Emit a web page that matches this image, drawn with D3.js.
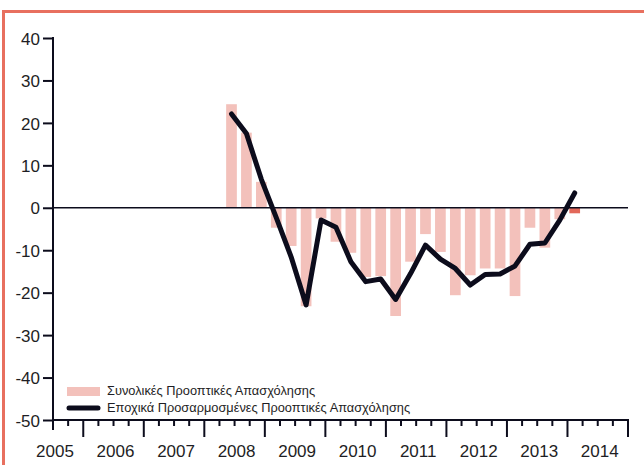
<!DOCTYPE html>
<html>
<head>
<meta charset="utf-8">
<script src="https://cdn.jsdelivr.net/npm/d3@7"></script>
<style>
  body { margin: 0; background: #fff; }
  svg text { font-family: "Liberation Sans", Arial, sans-serif; fill: #1e1e24; }
</style>
</head>
<body>
<svg id="chart" width="644" height="465"></svg>
<script>
// quarterly survey points, 2008 Q2 .. 2014 Q1
var quarters = ['2008Q2','2008Q3','2008Q4','2009Q1','2009Q2','2009Q3','2009Q4','2010Q1',
                '2010Q2','2010Q3','2010Q4','2011Q1','2011Q2','2011Q3','2011Q4','2012Q1',
                '2012Q2','2012Q3','2012Q4','2013Q1','2013Q2','2013Q3','2013Q4','2014Q1'];
// Συνολικές Προοπτικές Απασχόλησης (bars)
var totalOutlook = [24.4, 17.7, 6.1, -4.7, -9.0, -23.2, -2.5, -8.0, -10.6, -16.3, -16.1, -25.5,
                    -12.7, -6.2, -10.4, -20.6, -15.9, -14.3, -14.3, -20.8, -4.7, -9.4, -2.7, -1.3];
// Εποχικά Προσαρμοσμένες Προοπτικές Απασχόλησης (line)
var adjustedOutlook = [22.1, 17.5, 6.7, -2.3, -11.6, -22.9, -2.9, -4.6, -12.7, -17.4, -16.8, -21.6,
                       -15.5, -8.8, -12.1, -14.3, -18.2, -15.7, -15.6, -13.7, -8.6, -8.3, -2.9, 3.5];
var yearLabels = [2005, 2006, 2007, 2008, 2009, 2010, 2011, 2012, 2013, 2014];
var yTicks = [40, 30, 20, 10, 0, -10, -20, -30, -40, -50];
var legendLabels = ['Συνολικές Προοπτικές Απασχόλησης', 'Εποχικά Προσαρμοσμένες Προοπτικές Απασχόλησης'];

var ink = '#0c0c1c',
    barColor = '#f3c1bb',
    lastBarColor = '#e2685a',
    frameColor = '#e8705f';

var svg = d3.select('#chart');

// frame
svg.append('path')
    .attr('d', 'M3.5,465 V11.5 H644')
    .attr('fill', 'none')
    .attr('stroke', frameColor)
    .attr('stroke-width', 3);

var y = d3.scaleLinear().domain([-50, 40]).range([420, 38]);
var x = d3.scaleLinear().domain([2005.5, 2015]).range([53, 628]);
// survey points sit ~3/4 into each quarter
var xq = d3.scalePoint().domain(quarters).range([231.5, 574.7]);
var barW = 10.7;

// bars
svg.append('g').selectAll('rect')
    .data(quarters)
    .enter().append('rect')
    .attr('x', function(d) { return xq(d) - barW / 2; })
    .attr('width', barW)
    .attr('y', function(d, i) { return y(Math.max(0, totalOutlook[i])); })
    .attr('height', function(d, i) { return Math.abs(y(totalOutlook[i]) - y(0)); })
    .attr('fill', function(d, i) { return i === quarters.length - 1 ? lastBarColor : barColor; });

// zero line
svg.append('line')
    .attr('x1', x(2005.5)).attr('x2', x(2015))
    .attr('y1', y(0)).attr('y2', y(0))
    .attr('stroke', ink).attr('stroke-width', 1.4);

// y axis (plain hyphen for negatives, as in the original)
var yAxis = d3.axisLeft(y).tickValues(yTicks).tickSize(10).tickPadding(3)
    .tickFormat(function(d) { return String(d); });
var gy = svg.append('g').attr('transform', 'translate(' + x(2005.5) + ',0)').call(yAxis);
gy.select('.domain').remove();
gy.selectAll('.tick line').attr('stroke', ink).attr('stroke-width', 2);
gy.selectAll('.tick text').attr('font-size', 17).attr('font-family', null).attr('fill', null)
    .attr('dy', '0.36em');
svg.append('line')
    .attr('x1', x(2005.5)).attr('x2', x(2005.5))
    .attr('y1', y(40) - 1).attr('y2', 430)
    .attr('stroke', ink).attr('stroke-width', 2);

// x axis
var quarterTicks = d3.range(2005.75, 2015.01, 0.25);
var gx = svg.append('g').attr('transform', 'translate(0,' + y(-50) + ')');
gx.append('line')
    .attr('x1', x(2005.5)).attr('x2', x(2015) + 1)
    .attr('stroke', ink).attr('stroke-width', 2);
gx.selectAll('line.qt')
    .data(quarterTicks)
    .enter().append('line')
    .attr('class', 'qt')
    .attr('x1', function(d) { return x(d); })
    .attr('x2', function(d) { return x(d); })
    .attr('y1', 0)
    .attr('y2', function(d) { return Math.abs(d - Math.round(d)) < 0.01 ? 17 : 6; })
    .attr('stroke', ink)
    .attr('stroke-width', 2);
gx.selectAll('text')
    .data(yearLabels)
    .enter().append('text')
    .attr('x', function(d) { return x(d + 0.5) + 2; })
    .attr('y', 37)
    .attr('text-anchor', 'middle')
    .attr('font-size', 17)
    .text(function(d) { return d; });

// line
var line = d3.line()
    .x(function(d, i) { return xq(quarters[i]); })
    .y(function(d) { return y(d); });
svg.append('path')
    .datum(adjustedOutlook)
    .attr('d', line)
    .attr('fill', 'none')
    .attr('stroke', ink)
    .attr('stroke-width', 5)
    .attr('stroke-linejoin', 'round')
    .attr('stroke-linecap', 'round');

// legend
var lg = svg.append('g').attr('transform', 'translate(67,387)');
lg.append('rect').attr('x', 0).attr('y', 0).attr('width', 33).attr('height', 9).attr('fill', barColor);
lg.append('line').attr('x1', 2).attr('x2', 31).attr('y1', 21).attr('y2', 21)
    .attr('stroke', ink).attr('stroke-width', 5).attr('stroke-linecap', 'round');
lg.selectAll('text')
    .data(legendLabels)
    .enter().append('text')
    .attr('x', 40)
    .attr('y', function(d, i) { return 8 + i * 16.5; })
    .attr('font-size', 12.8)
    .text(function(d) { return d; });
</script>
</body>
</html>
